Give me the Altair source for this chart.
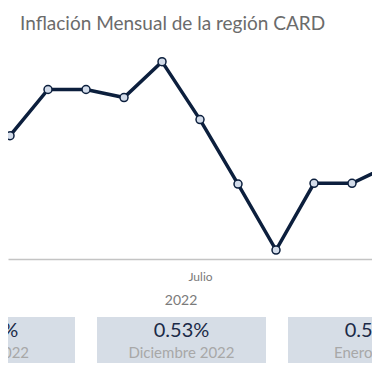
import altair as alt
import pandas as pd

# Monthly inflation 2022 (month index 1..12), values in %
months = list(range(1, 13))
month_names = ["Enero", "Febrero", "Marzo", "Abril", "Mayo", "Junio", "Julio",
               "Agosto", "Septiembre", "Octubre", "Noviembre", "Diciembre"]
inflation = [0.590, 0.570, 0.633, 0.633, 0.622, 0.671, 0.592,
             0.504, 0.414, 0.505, 0.505, 0.530]

# KPI cards
card_index = [0, 1, 2]
card_values = ["0.59%", "0.53%", "0.56%"]
card_labels = ["Enero 2022", "Diciembre 2022", "Enero 2023"]

year_label = ["2022"]
year_center = [6.5]

df = pd.DataFrame({"mes": months, "nombre": month_names, "inflacion": inflation})
cards = pd.DataFrame({"i": card_index, "valor": card_values, "etiqueta": card_labels})
years = pd.DataFrame({"anio": year_label, "pos": year_center})

FONT = "Lato"
NAVY = "#0c1f3d"

xscale = alt.Scale(domain=[1.947, 11.526], nice=False, zero=False)
yscale = alt.Scale(domain=[0.4018, 0.6828], nice=False, zero=False)

xaxis = alt.Axis(values=[7], labelExpr="'Julio'", ticks=False, grid=False,
                 domainColor="#c4c4c4", domainWidth=1.5, labelColor="#7a7a7a",
                 labelFont=FONT, labelFontSize=12, labelPadding=12, title=None)

base = alt.Chart(df)
line = base.mark_line(color=NAVY, strokeWidth=3.5).encode(
    x=alt.X("mes:Q", scale=xscale, axis=xaxis),
    y=alt.Y("inflacion:Q", scale=yscale, axis=None),
)
pts = base.mark_point(filled=True, fill="#d3dcea", stroke=NAVY, strokeWidth=1.5,
                      size=64, opacity=1).encode(
    x=alt.X("mes:Q", scale=xscale, axis=xaxis),
    y=alt.Y("inflacion:Q", scale=yscale, axis=None),
)
year_txt = alt.Chart(years).mark_text(font=FONT, fontSize=14, color="#7a7a7a",
                                      baseline="middle").encode(
    x=alt.X("pos:Q", scale=xscale, axis=xaxis),
    y=alt.value(248),
    text="anio:N",
)

cscale = alt.Scale(domain=[0.0916, 1.9974], nice=False, zero=False)
card_rect = alt.Chart(cards).mark_rect(width=169, color="#d6dde6").encode(
    x=alt.X("i:Q", scale=cscale, axis=None),
    y=alt.value(264), y2=alt.value(310),
)
card_val = alt.Chart(cards).mark_text(font=FONT, fontSize=20, color="#1b2a47",
                                      baseline="middle").encode(
    x=alt.X("i:Q", scale=cscale, axis=None),
    y=alt.value(278),
    text="valor:N",
)
card_lab = alt.Chart(cards).mark_text(font=FONT, fontSize=15, color="#a8a8a8",
                                      baseline="middle").encode(
    x=alt.X("i:Q", scale=cscale, axis=None),
    y=alt.value(300),
    text="etiqueta:N",
)

chart = alt.layer(
    alt.layer(line, pts, year_txt),
    alt.layer(card_rect, card_val, card_lab),
).resolve_scale(x="independent").properties(
    width=364, height=206,
    autosize=alt.AutoSizeParams(type="none"),
    padding={"left": 0, "top": 45, "right": 0, "bottom": 113},
    title=alt.TitleParams("Inflación Mensual de la región CARD", anchor="start",
                          frame="group", dx=12, offset=19, fontSize=19, font=FONT,
                          fontWeight="normal", color="#6b6b6b"),
).configure_view(stroke=None)

chart.save("out.html", embed_options={"renderer": "svg", "actions": False})
